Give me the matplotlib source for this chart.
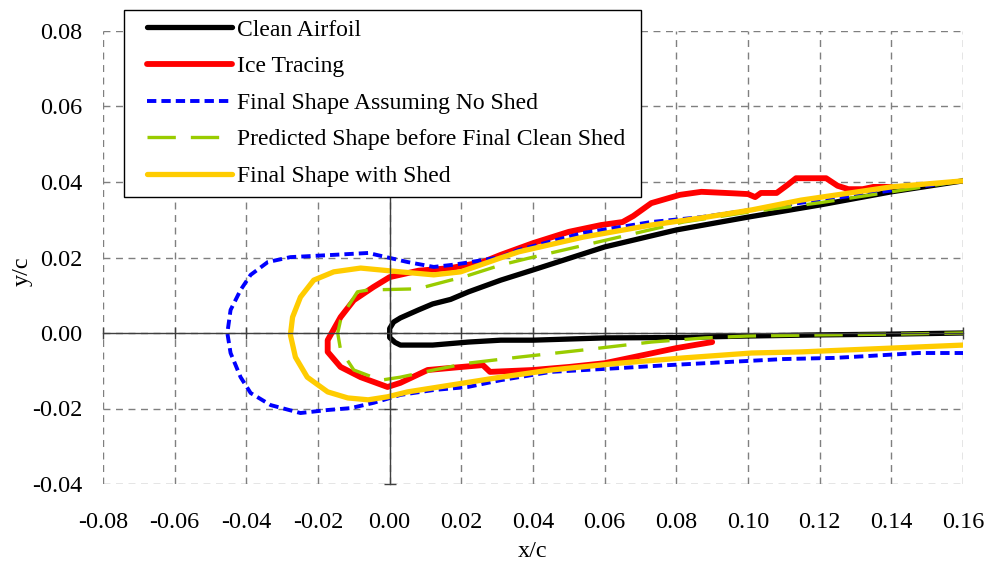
import matplotlib.pyplot as plt
import numpy as np
from matplotlib.patches import Rectangle

# Clean airfoil, ice tracing and predicted shapes (x/c, y/c), upper TE -> LE -> lower TE
clean_x = [0.16, 0.14, 0.12, 0.10, 0.08, 0.06, 0.04, 0.031, 0.022, 0.017, 0.012, 0.008,
           0.003, 0.0011, 0.0, 0.0, 0.0015, 0.003, 0.012, 0.022, 0.031, 0.04, 0.06, 0.08,
           0.10, 0.12, 0.14, 0.16]
clean_y = [0.0403, 0.0374, 0.0339, 0.0307, 0.0273, 0.0228, 0.0167, 0.014, 0.0109, 0.0089,
           0.0077, 0.0061, 0.004, 0.0029, 0.0012, -0.0012, -0.0025, -0.0032, -0.0032, -0.0024,
           -0.0019, -0.0019, -0.0013, -0.0012, -0.0008, -0.0005, -0.0003, 0.0]

ice_x = [0.140, 0.135, 0.132, 0.128, 0.125, 0.1218, 0.1134, 0.111, 0.108, 0.1036, 0.102,
         0.100, 0.096, 0.087, 0.081, 0.073, 0.068, 0.065, 0.059, 0.050, 0.040, 0.031, 0.026,
         0.017, 0.008, 0.0, -0.0045, -0.010, -0.0137, -0.0173, -0.0173, -0.0137, -0.0081,
         -0.0006, 0.003, 0.0106, 0.020, 0.026, 0.028, 0.040, 0.050, 0.060, 0.068, 0.080, 0.090]
ice_y = [0.0387, 0.0387, 0.0381, 0.0381, 0.039, 0.041, 0.041, 0.0392, 0.0371, 0.0371, 0.036,
         0.0368, 0.0370, 0.0374, 0.0366, 0.0344, 0.031, 0.0294, 0.0286, 0.0268, 0.0238, 0.0207,
         0.0188, 0.0172, 0.0165, 0.0148, 0.0122, 0.0087, 0.0042, -0.0019, -0.005, -0.009,
         -0.0117, -0.0143, -0.0132, -0.0098, -0.009, -0.0085, -0.0103, -0.0098, -0.009, -0.008,
         -0.0064, -0.004, -0.0024]

noshed_x = [0.16, 0.12, 0.10, 0.087, 0.073, 0.054, 0.036, 0.031, 0.0207, 0.017, 0.0123,
            0.005, -0.006, -0.0156, -0.0277, -0.034, -0.0388, -0.0416, -0.0444, -0.0453,
            -0.0444, -0.0416, -0.0388, -0.0332, -0.0249, -0.0173, -0.0109, -0.0045, 0.003,
            0.0123, 0.0218, 0.031, 0.045, 0.064, 0.078, 0.094, 0.11, 0.124, 0.1335, 0.1475, 0.16]
noshed_y = [0.0403, 0.0352, 0.0325, 0.0307, 0.0294, 0.0265, 0.022, 0.0201, 0.0185, 0.018,
            0.0175, 0.0188, 0.0212, 0.0207, 0.0201, 0.0188, 0.0154, 0.0114, 0.0061, 0.0,
            -0.0053, -0.0117, -0.0159, -0.0191, -0.0212, -0.0204, -0.0199, -0.0185, -0.0164,
            -0.0151, -0.0143, -0.0125, -0.0103, -0.0093, -0.0085, -0.0077, -0.0069, -0.0066,
            -0.0061, -0.0053, -0.0053]

pred_x = [0.16, 0.12, 0.10, 0.082, 0.064, 0.040, 0.031, 0.0198, 0.017, 0.0078, -0.006,
          -0.009, -0.0117, -0.0137, -0.0145, -0.0137, -0.010, -0.0025, 0.003, 0.0123, 0.0218,
          0.036, 0.054, 0.073, 0.088, 0.10, 0.12, 0.14, 0.16]
pred_y = [0.0403, 0.0345, 0.032, 0.0294, 0.0254, 0.0201, 0.018, 0.0146, 0.014, 0.0117, 0.0114,
          0.0109, 0.0069, 0.0034, 0.0, -0.0045, -0.0098, -0.0125, -0.0117, -0.0098, -0.008,
          -0.0064, -0.0045, -0.0024, -0.0013, -0.0008, -0.0005, -0.0003, 0.0]

shed_x = [0.16, 0.14, 0.1148, 0.101, 0.087, 0.073, 0.054, 0.036, 0.031, 0.0198, 0.0123,
          0.003, -0.0081, -0.0156, -0.0212, -0.0249, -0.0271, -0.0277, -0.0263, -0.023,
          -0.0173, -0.0117, -0.006, -0.0006, 0.005, 0.017, 0.031, 0.045, 0.064, 0.082, 0.101,
          0.115, 0.16]
shed_y = [0.0403, 0.0387, 0.0352, 0.0326, 0.0305, 0.0286, 0.0254, 0.0215, 0.0199, 0.0162,
          0.0154, 0.0162, 0.0172, 0.0162, 0.014, 0.0095, 0.0042, -0.0005, -0.0064, -0.0117,
          -0.0156, -0.0172, -0.0177, -0.0169, -0.0156, -0.0138, -0.0117, -0.0098, -0.008,
          -0.0066, -0.0053, -0.005, -0.0032]

xticks = np.arange(-0.08, 0.161, 0.02)
yticks = np.arange(-0.04, 0.081, 0.02)

plt.rcParams["font.family"] = ["Liberation Serif", "DejaVu Serif"]
W, H = 987, 564
fig = plt.figure(figsize=(W / 100, H / 100), dpi=100)
rect = [103 / W, 1 - 484 / H, 860 / W, 453 / H]

# axes crossing at zero, Excel style
ax = fig.add_axes(rect)
ax.set_xlim(-0.08, 0.16)
ax.set_ylim(-0.04, 0.08)
ax.set_xticks(xticks)
ax.set_yticks(yticks)
ax.grid(True, color="#7f7f7f", linestyle=(0, (5, 4)), linewidth=1.0)
for side in ["top", "right"]:
    ax.spines[side].set_visible(False)
ax.spines["left"].set_position(("data", 0))
ax.spines["bottom"].set_position(("data", 0))
for side in ["left", "bottom"]:
    ax.spines[side].set_color("#404040")
    ax.spines[side].set_linewidth(1.0)
ax.tick_params(direction="inout", length=9, width=1.0, color="#404040",
               labelleft=False, labelbottom=False)

ax.plot(clean_x, clean_y, color="black", lw=3.8, label="Clean Airfoil", solid_capstyle="round")
ax.plot(ice_x, ice_y, color="#ff0000", lw=4.2, label="Ice Tracing", solid_capstyle="round")
ax.plot(noshed_x, noshed_y, color="#0000ff", lw=2.8, linestyle=(0, (2.4, 1.3)),
        label="Final Shape Assuming No Shed")
ax.plot(pred_x, pred_y, color="#99cc00", lw=2.4, linestyle=(0, (8.5, 4.5)),
        label="Predicted Shape before Final Clean Shed")
ax.plot(shed_x, shed_y, color="#ffcc00", lw=3.8, label="Final Shape with Shed",
        solid_capstyle="round")

# tick labels along the outer edges
lab = fig.add_axes(rect, frameon=False)
lab.set_xlim(-0.08, 0.16)
lab.set_ylim(-0.04, 0.08)
lab.set_xticks(xticks)
lab.set_yticks(yticks)
lab.set_xticklabels([f"{v:.2f}" for v in xticks])
lab.set_yticklabels([f"{v:.2f}" for v in yticks])
lab.tick_params(length=0, labelsize=17.5)
lab.tick_params(axis="x", pad=20)
lab.tick_params(axis="y", pad=15)
lab.set_xlabel("x/c", fontsize=17.5, labelpad=6)
lab.set_ylabel("y/c", fontsize=17.5)
lab.yaxis.set_label_coords(-0.082, 0.47)
lab.patch.set_alpha(0)

# legend: entries positioned inside a plain box
lab.add_patch(Rectangle((124 / W, 1 - 197 / H), 517 / W, 187 / H,
                        transform=fig.transFigure, facecolor="white",
                        edgecolor="black", linewidth=1.0, zorder=4, clip_on=False))
handles, labels = ax.get_legend_handles_labels()
leg = lab.legend(handles, labels, loc="upper left", bbox_to_anchor=(147 / W, 1 - 19 / H),
                 bbox_transform=fig.transFigure, borderaxespad=0, borderpad=0,
                 fontsize=17, handlelength=3.6, handletextpad=0.2, labelspacing=0.64,
                 frameon=False)
leg.set_zorder(5)

fig.savefig("out.png", dpi=100)
